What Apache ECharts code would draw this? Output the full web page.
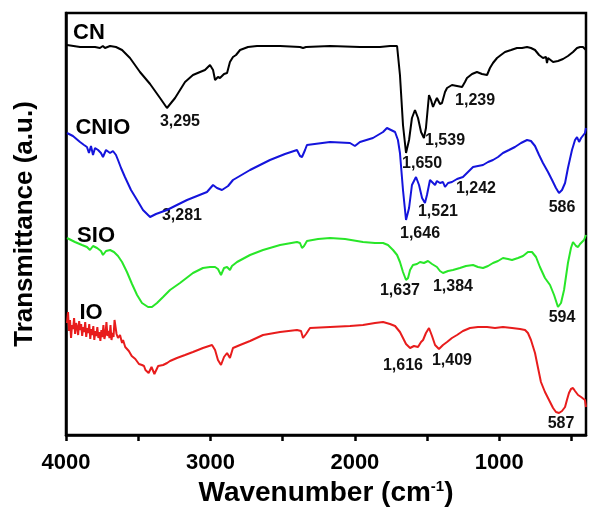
<!DOCTYPE html>
<html>
<head>
<meta charset="utf-8">
<script src="https://cdn.jsdelivr.net/npm/echarts@6/dist/echarts.min.js"></script>
<style>
html,body{margin:0;padding:0;background:#fff;}
#chart{width:602px;height:518px;}
</style>
</head>
<body>
<div id="chart"></div>
<script>
// Wavenumber (cm-1), transmittance (arbitrary offset units)
const seriesNames = ['CN', 'CNIO', 'SIO', 'IO'];
const seriesColors = ['#000000', '#1414dc', '#28e628', '#e81c1c'];

const cnData = [
[3993,390],[3903,388],[3799,388],[3765,387],[3745,389],[3730,387],[3695,389],[3654,388],[3612,385],[3557,377],[3488,363],[3418,351],[3349,337],[3301,327],[3245,337],[3176,353],[3121,360],[3072,363],[3038,365],[3003,370],[2982,365],[2968,355],[2948,358],[2934,357],[2906,361],[2885,362],[2865,373],[2844,378],[2823,380],[2795,385],[2740,388],[2678,389],[2518,389],[2380,388],[2359,387],[2338,388],[2172,389],[1965,388],[1826,388],[1757,389],[1708,389],[1688,360],[1667,310],[1646,282],[1625,295],[1605,317],[1584,325],[1563,317],[1542,303],[1522,297],[1508,307],[1487,340],[1473,335],[1459,328],[1445,333],[1432,337],[1411,331],[1397,332],[1376,343],[1362,347],[1328,350],[1293,349],[1258,348],[1238,353],[1224,357],[1189,361],[1155,363],[1120,361],[1085,360],[1065,367],[1044,372],[1016,377],[989,380],[961,383],[919,385],[878,387],[843,387],[808,388],[781,387],[753,385],[725,380],[698,377],[677,378],[670,372],[663,377],[628,373],[594,374],[559,376],[525,379],[490,383],[462,387],[441,388],[421,388],[400,385]
];

const cnioData = [
[3993,302],[3952,299],[3903,293],[3875,290],[3855,288],[3841,282],[3827,289],[3813,280],[3799,287],[3778,285],[3758,282],[3744,278],[3723,285],[3695,282],[3675,284],[3654,280],[3640,275],[3619,267],[3592,258],[3550,245],[3508,235],[3467,225],[3418,218],[3377,221],[3301,225],[3232,230],[3162,235],[3093,239],[3024,243],[2982,250],[2955,247],[2920,245],[2878,249],[2844,255],[2726,265],[2588,275],[2484,281],[2401,285],[2380,279],[2366,278],[2345,285],[2332,290],[2172,293],[2034,292],[2000,289],[1965,293],[1875,297],[1805,303],[1778,307],[1750,305],[1722,303],[1702,295],[1688,282],[1667,245],[1646,215],[1625,227],[1605,250],[1577,258],[1556,250],[1535,237],[1515,232],[1501,240],[1480,255],[1466,253],[1445,250],[1432,254],[1411,252],[1390,253],[1376,248],[1355,252],[1328,253],[1293,256],[1252,258],[1217,263],[1182,268],[1148,269],[1113,270],[1078,273],[1044,275],[1009,278],[975,282],[933,285],[892,288],[850,292],[808,295],[781,294],[753,289],[725,280],[698,272],[663,263],[635,255],[608,247],[587,242],[566,245],[545,252],[525,267],[497,285],[476,295],[462,298],[448,293],[434,297],[421,295],[407,302],[400,307]
];

const sioData = [
[3993,197],[3938,193],[3889,190],[3855,188],[3834,185],[3813,189],[3785,187],[3758,184],[3744,180],[3723,184],[3695,185],[3668,183],[3640,179],[3612,173],[3578,163],[3543,151],[3508,140],[3474,132],[3432,128],[3405,128],[3370,132],[3328,138],[3280,145],[3211,152],[3121,162],[3052,167],[3003,168],[2968,168],[2948,166],[2927,160],[2906,167],[2885,168],[2865,165],[2851,169],[2816,173],[2726,180],[2636,185],[2518,190],[2401,193],[2380,192],[2366,187],[2352,189],[2332,194],[2255,196],[2172,197],[2068,196],[1944,193],[1861,192],[1805,192],[1771,190],[1736,185],[1708,180],[1688,173],[1667,163],[1646,155],[1632,157],[1618,165],[1598,170],[1570,171],[1549,173],[1522,172],[1494,174],[1466,171],[1432,168],[1411,164],[1390,162],[1355,164],[1321,165],[1273,167],[1231,169],[1182,170],[1148,168],[1113,167],[1078,169],[1044,172],[1009,174],[975,177],[940,176],[912,175],[871,177],[836,179],[802,183],[774,183],[746,178],[719,168],[684,157],[649,150],[621,140],[594,128],[573,132],[552,145],[525,172],[504,187],[490,193],[469,189],[455,188],[441,191],[428,190],[414,195],[400,200]
];

const ioData = [
[3993,112],[3986,123],[3979,104],[3972,115],[3965,97],[3958,110],[3951,106],[3944,117],[3937,101],[3930,112],[3923,108],[3916,100],[3909,114],[3902,105],[3895,111],[3888,99],[3881,108],[3874,103],[3867,113],[3860,98],[3853,107],[3846,102],[3839,111],[3832,96],[3825,106],[3818,100],[3811,109],[3804,95],[3797,104],[3790,99],[3783,108],[3776,97],[3769,103],[3762,94],[3755,105],[3748,98],[3741,110],[3734,96],[3727,101],[3720,113],[3713,99],[3706,104],[3699,97],[3692,110],[3685,95],[3678,102],[3671,98],[3664,115],[3650,101],[3640,97],[3626,100],[3612,92],[3605,95],[3590,88],[3578,90],[3565,84],[3557,83],[3545,79],[3536,80],[3520,76],[3508,77],[3495,71],[3488,72],[3474,70],[3460,69],[3450,65],[3439,67],[3428,62],[3418,63],[3408,68],[3398,67],[3388,61],[3377,63],[3362,69],[3349,68],[3328,70],[3300,72],[3280,74],[3232,77],[3176,80],[3121,83],[3052,87],[2989,90],[2968,85],[2948,75],[2927,70],[2906,78],[2885,82],[2865,77],[2844,87],[2795,90],[2726,94],[2636,100],[2518,103],[2401,105],[2373,104],[2359,97],[2338,101],[2311,107],[2172,108],[2034,109],[1944,110],[1861,112],[1805,113],[1757,111],[1722,109],[1688,103],[1667,97],[1646,91],[1618,87],[1591,89],[1563,88],[1542,93],[1528,95],[1508,102],[1487,107],[1466,99],[1445,90],[1418,86],[1390,90],[1362,93],[1328,97],[1293,100],[1252,104],[1203,107],[1148,108],[1085,108],[1030,107],[975,108],[912,107],[857,106],[822,105],[802,102],[781,95],[753,82],[732,67],[712,53],[684,43],[656,35],[628,27],[608,23],[587,22],[566,24],[545,28],[532,35],[518,42],[504,46],[490,47],[476,44],[455,40],[434,38],[421,37],[407,35],[400,28]
];

// Series name labels: [wavenumber, value, text]
const nameLabels = [[3841,402,'CN'],[3744,307,'CNIO'],[3792,199,'SIO'],[3827,122,'IO']];
// Peak labels: [wavenumber, value, text]
const peakLabels = [
[3211,313,'3,295'],[3197,219,'3,281'],
[1535,271,'1,650'],[1376,294,'1,539'],[1168,334,'1,239'],
[1549,201,'1,646'],[1425,223,'1,521'],[1162,246,'1,242'],[566,227,'586'],
[1688,144,'1,637'],[1321,148,'1,384'],[566,117,'594'],
[1667,69,'1,616'],[1328,74,'1,409'],[573,11,'587']
];
const majorTicks = [4000,3000,2000,1000];
const allTicks = [4000,3500,3000,2500,2000,1500,1000,500];

const FONT = '"Liberation Sans", Arial, sans-serif';
const chart = echarts.init(document.getElementById('chart'), null, {renderer:'canvas'});
const dataSets = [cnData, cnioData, sioData, ioData];

const series = dataSets.map((d, i) => ({
  name: seriesNames[i], type: 'line', data: d, showSymbol: false, symbol: 'none',
  lineStyle: {color: seriesColors[i], width: 2}, itemStyle: {color: seriesColors[i]},
  animation: false, silent: true
}));
series.push({
  type: 'scatter', data: nameLabels, symbolSize: 0, silent: true, animation: false,
  itemStyle: {opacity: 1},
  label: {show: true, position: 'inside', formatter: p => p.value[2], opacity: 1,
    fontFamily: FONT, fontWeight: 'bold', fontSize: 22, color: '#000'}
});
series.push({
  type: 'scatter', data: peakLabels, symbolSize: 0, silent: true, animation: false,
  itemStyle: {opacity: 1},
  label: {show: true, position: 'inside', formatter: p => p.value[2], opacity: 1,
    fontFamily: FONT, fontWeight: 'bold', fontSize: 16, color: '#111'}
});

chart.setOption({
  backgroundColor: '#fff',
  animation: false,
  grid: {left: 66, right: 16, top: 13, bottom: 83, show: true, borderColor: '#000', borderWidth: 2.5},
  xAxis: {
    type: 'value', min: 400, max: 4000, inverse: true,
    name: 'Wavenumber (cm{sup|-1})', nameLocation: 'middle', nameGap: 40,
    nameTextStyle: {fontFamily: FONT, fontWeight: 'bold', fontSize: 28, color: '#000',
      rich: {sup: {fontFamily: FONT, fontWeight: 'bold', fontSize: 15, verticalAlign: 'top', color: '#000'}}},
    axisLine: {show: true, lineStyle: {color: '#000', width: 2.5}},
    axisTick: {show: true, inside: false, length: 6, lineStyle: {color: '#000', width: 2.5}, customValues: allTicks},
    axisLabel: {show: true, customValues: majorTicks, margin: 17, formatter: v => String(v),
      fontFamily: FONT, fontWeight: 'bold', fontSize: 22, color: '#000'},
    splitLine: {show: false}
  },
  yAxis: {
    type: 'value', min: 0, max: 422,
    name: 'Transmittance (a.u.)', nameLocation: 'middle', nameGap: 28, nameRotate: 90,
    nameTextStyle: {fontFamily: FONT, fontWeight: 'bold', fontSize: 26, color: '#000'},
    axisLine: {show: true, lineStyle: {color: '#000', width: 2.5}},
    axisTick: {show: false}, axisLabel: {show: false}, splitLine: {show: false}
  },
  series: series
});
</script>
</body>
</html>
